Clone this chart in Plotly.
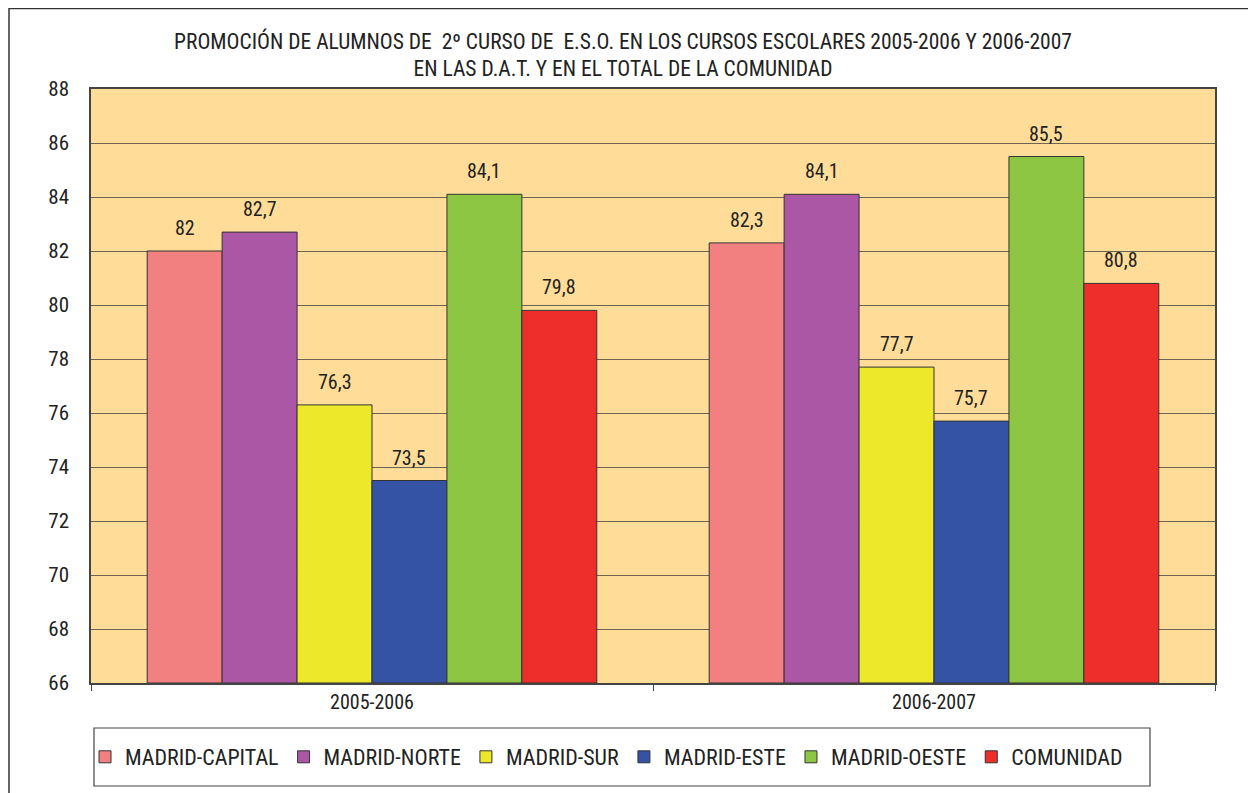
import plotly.graph_objects as go

categories = ["2005-2006", "2006-2007"]
series_names = ["MADRID-CAPITAL", "MADRID-NORTE", "MADRID-SUR", "MADRID-ESTE", "MADRID-OESTE", "COMUNIDAD"]
madrid_capital = [82, 82.3]
madrid_norte = [82.7, 84.1]
madrid_sur = [76.3, 77.7]
madrid_este = [73.5, 75.7]
madrid_oeste = [84.1, 85.5]
comunidad = [79.8, 80.8]
colors = ["#F28080", "#AB57A6", "#EEE82A", "#3553A5", "#8DC643", "#EE2E2A"]
y_ticks = list(range(66, 89, 2))

FONT = "Liberation Sans Narrow, Roboto Condensed, Arial Narrow, sans-serif"

W, H = 1248, 785
L, T, R, B = 83, 81, 41, 110
PW, PH = W - L - R, H - T - B
BARGAP = 0.2

def px(x):
    return (x - L) / PW

def py(y):
    return 1 - (y - T) / PH

def fmt(v):
    return f"{v:g}".replace(".", ",")

all_series = [madrid_capital, madrid_norte, madrid_sur, madrid_este, madrid_oeste, comunidad]
n = len(all_series)
bw = (1 - BARGAP) / n

fig = go.Figure()
annotations = []
for i, (name, vals, col) in enumerate(zip(series_names, all_series, colors)):
    fig.add_trace(go.Bar(
        name=name, x=categories, y=[v - 66 for v in vals], base=66,
        marker=dict(color=col, line=dict(color="#333333", width=1)),
        hoverinfo="name+y",
    ))
    for ci, v in enumerate(vals):
        annotations.append(dict(
            x=ci - (1 - BARGAP) / 2 + bw * (i + 0.5), y=v, xref="x", yref="y",
            text=fmt(v), showarrow=False, yanchor="bottom", yshift=9,
            font=dict(family=FONT, size=20, color="#222222"),
        ))

fig.update_layout(
    width=W, height=H,
    paper_bgcolor="white", plot_bgcolor="#FFDD99",
    barmode="group", bargap=BARGAP, bargroupgap=0,
    margin=dict(l=L, r=R, t=T, b=B),
    font=dict(family=FONT, size=20, color="#222222"),
    title=dict(
        text="PROMOCIÓN DE ALUMNOS DE  2º CURSO DE  E.S.O. EN LOS CURSOS ESCOLARES 2005-2006 Y 2006-2007<br>EN LAS D.A.T. Y EN EL TOTAL DE LA COMUNIDAD",
        x=(615 - L) / PW * (PW / W) + L / W, xanchor="center", xref="container",
        y=1 - 40.5 / H, yanchor="middle", yref="container",
        font=dict(family=FONT, size=21.5, color="#222222"),
    ),
    showlegend=True,
    legend=dict(
        orientation="h", x=px(77), xanchor="left", y=py(749), yanchor="middle",
        borderwidth=0, bgcolor="rgba(0,0,0,0)",
        font=dict(family=FONT, size=22, color="#222222"),
        itemwidth=30, traceorder="normal",
    ),
    annotations=annotations,
    shapes=[
        dict(type="rect", xref="paper", yref="paper",
             x0=px(1), x1=px(W + 20), y0=py(H + 20), y1=py(0.5),
             line=dict(color="#333333", width=1.5), fillcolor="rgba(0,0,0,0)", layer="below"),
        dict(type="rect", xref="paper", yref="paper",
             x0=px(86), x1=px(1142), y0=py(778), y1=py(720),
             line=dict(color="#444444", width=1.2), fillcolor="white", layer="below"),
    ],
)
fig.update_yaxes(
    range=[66, 88], tickvals=y_ticks, ticktext=[str(t) for t in y_ticks],
    showgrid=True, gridcolor="#6E6550", gridwidth=1,
    showline=True, linecolor="#444444", linewidth=1.5, mirror=True,
    ticks="", tickfont=dict(family=FONT, size=21, color="#222222"),
    ticklabelstandoff=16, zeroline=False,
)
fig.update_xaxes(
    showline=True, linecolor="#444444", linewidth=1.5, mirror=True,
    ticks="outside", ticklen=6, tickcolor="#444444",
    tickson="boundaries",
    tickfont=dict(family=FONT, size=20, color="#222222"),
)

fig.write_html("out.html")
